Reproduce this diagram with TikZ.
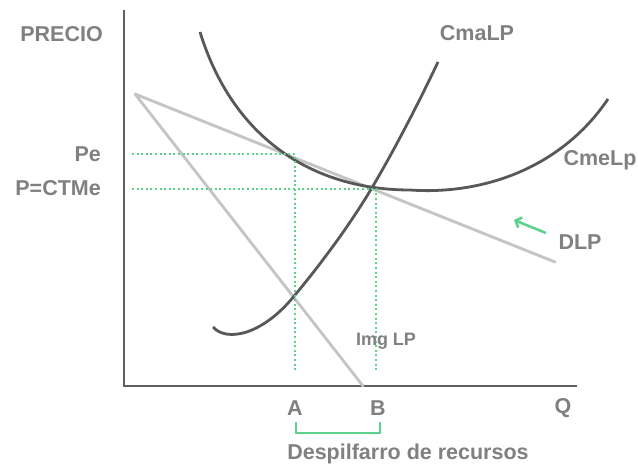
\documentclass[tikz,border=0pt]{standalone}
\usepackage{fontspec}
\setmainfont{Liberation Sans}
\usetikzlibrary{arrows.meta}
\definecolor{axisc}{RGB}{96,96,96}
\definecolor{curvec}{RGB}{88,88,88}
\definecolor{demc}{RGB}{196,196,196}
\definecolor{greenc}{RGB}{92,210,140}
\definecolor{textc}{RGB}{128,128,128}
\begin{document}
\begin{tikzpicture}[x=1pt,y=-1pt,
  lbl/.style={text=textc,font=\bfseries\fontsize{21.5}{24}\selectfont,inner sep=0pt},
  axisline/.style={draw=axisc,line width=2.8pt},
  costcurve/.style={draw=curvec,line width=2.8pt},
  demline/.style={draw=demc,line width=2.8pt},
  guide/.style={draw=greenc,line width=2.3pt,dash pattern=on 2pt off 2.6pt},
  greenmark/.style={draw=greenc,line width=2.6pt}]
\useasboundingbox (0,0) rectangle (638,468);
% axes
\coordinate (ytop) at (124,10);
\coordinate (origin) at (124,386);
\coordinate (xend) at (577,386);
\draw[axisline] (ytop) -- (origin) -- (xend);
% demand and marginal revenue
\coordinate (dtop) at (135,94);
\coordinate (dend) at (555,262);
\coordinate (mgend) at (363,386);
\draw[demline,line cap=round,line join=round] (dend) -- (dtop) -- (mgend);
% CmeLp
\draw[costcurve] (200,32) .. controls (235,145) and (320,190) .. (410,190)
  .. controls (480,195) and (560,170) .. (608,99);
% CmaLP
\draw[costcurve] (213,327) .. controls (226,342) and (262,336) .. (295,295)
  .. controls (320,265) and (350,225) .. (373,186)
  .. controls (396,147) and (420,100) .. (438,62);
% guides
\coordinate (pe0) at (132,154);
\coordinate (pe1) at (295,154);
\coordinate (pc0) at (132,189);
\coordinate (pc1) at (376,189);
\coordinate (a1) at (295,370);
\coordinate (b1) at (376,370);
\draw[guide] (pe0) -- (pe1) -- (a1);
\draw[guide] (pc0) -- (pc1) -- (b1);
% labels
\node[lbl,anchor=east] (precio) at (103,34) {PRECIO};
\node[lbl,anchor=east] (pe) at (101,154) {Pe};
\node[lbl,anchor=east] (pcm) at (101,188) {P=CTMe};
\node[lbl] (cma) at (477,33) {CmaLP};
\node[lbl] (cme) at (600,160) {CmeLp};
\node[lbl] (dlp) at (580,242) {DLP};
\node[lbl,font=\bfseries\fontsize{18}{21}\selectfont] (img) at (386,341) {Img LP};
\node[lbl] (la) at (295,408) {A};
\node[lbl] (lb) at (378,408) {B};
\node[lbl] (lq) at (563,408) {Q};
\node[lbl] (desp) at (408,454) {Despilfarro de recursos};
% green arrow
\coordinate (arS) at (546,233);
\coordinate (arE) at (514,220);
\draw[greenmark,-{Straight Barb[length=5pt,width=11pt]}] (arS) -- (arE);
% bracket
\coordinate (br1) at (296,422);
\coordinate (br2) at (380,422);
\draw[greenmark] (br1) -- ++(0,11) -| (br2);
\end{tikzpicture}
\end{document}
